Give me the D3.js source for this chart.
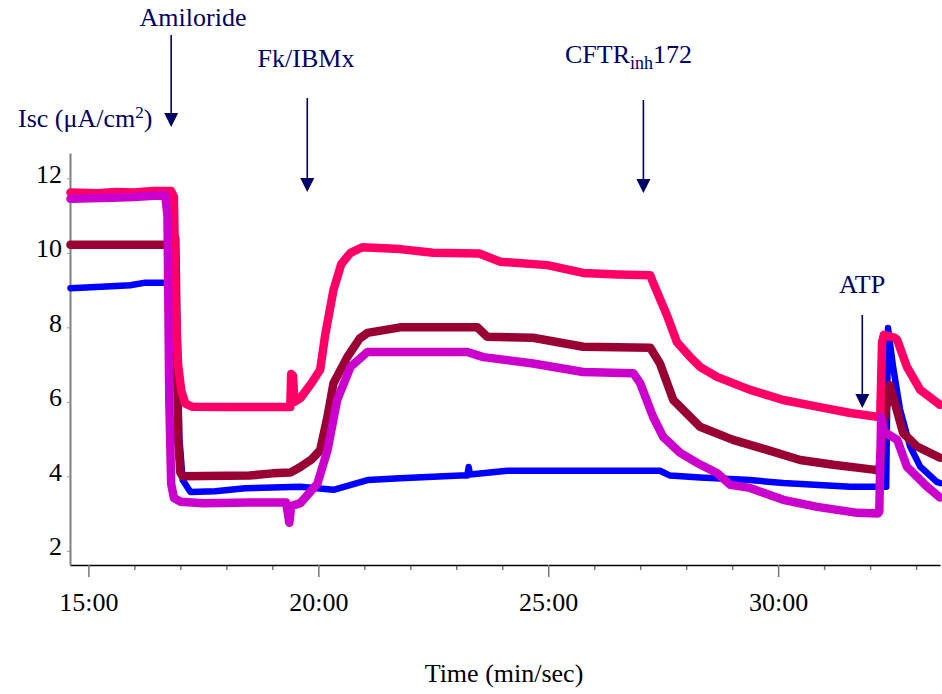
<!DOCTYPE html>
<html>
<head>
<meta charset="utf-8">
<script src="https://cdn.jsdelivr.net/npm/d3@7"></script>
<style>
  body { margin: 0; background: #fff; }
  svg text { font-family: "Liberation Serif", "Times New Roman", serif; }
</style>
</head>
<body>
<div id="chart-container"></div>
<script>
// traces: [time in minutes, Isc in uA/cm2]
const blueTrace = [[14.61, 9.05], [15.5, 9.1], [15.91, 9.13], [16.24, 9.2], [16.89, 9.2], [16.93, 8.0], [16.98, 5.0],
  [17.05, 3.9], [17.22, 3.58], [17.76, 3.6], [18.41, 3.68], [19.0, 3.7], [19.61, 3.72], [20.33, 3.64], [21.07, 3.9],
  [21.78, 3.95], [23.09, 4.02], [23.24, 4.02], [23.27, 4.25], [23.3, 4.05], [24.11, 4.15], [27.43, 4.15], [27.65, 4.02],
  [28.3, 3.97], [29.39, 3.9], [30.11, 3.82], [31.57, 3.72], [32.35, 3.72], [32.39, 7.98], [32.5, 6.94], [32.65, 5.8],
  [32.87, 4.8], [33.09, 4.26], [33.45, 3.85], [33.52, 3.82]];

const maroonTrace = [[14.61, 10.22], [16.0, 10.22], [16.8, 10.22], [16.89, 10.4], [16.92, 8.0], [16.95, 5.0], [17.0, 4.1],
  [17.05, 4.0], [18.5, 4.02], [19.0, 4.08], [19.39, 4.1], [19.61, 4.25], [19.85, 4.45], [20.04, 4.7], [20.2, 5.6],
  [20.33, 6.5], [20.63, 7.2], [20.9, 7.7], [21.07, 7.85], [21.78, 8.0], [23.46, 8.0], [23.67, 7.75], [24.67, 7.72],
  [25.76, 7.48], [27.22, 7.45], [27.43, 7.03], [27.72, 6.05], [28.3, 5.33], [29.02, 4.98], [29.76, 4.71], [30.48, 4.44],
  [31.2, 4.31], [32.07, 4.18], [32.2, 4.15], [32.3, 5.5], [32.43, 6.45], [32.72, 5.16], [33.02, 4.8], [33.52, 4.5]];

const pinkTrace = [[14.61, 11.62], [15.2, 11.6], [15.6, 11.63], [16.0, 11.62], [16.4, 11.66], [16.8, 11.66], [16.86, 11.5],
  [16.9, 8.5], [16.95, 7.0], [17.02, 6.3], [17.11, 5.95], [17.25, 5.87], [18.0, 5.86], [19.39, 5.86], [19.41, 6.75],
  [19.45, 6.7], [19.48, 6.0], [19.61, 6.1], [19.85, 6.5], [20.04, 6.86], [20.15, 7.8], [20.33, 9.0], [20.5, 9.7],
  [20.7, 10.0], [20.96, 10.15], [21.78, 10.1], [22.5, 10.0], [23.5, 9.98], [23.96, 9.76], [24.98, 9.67], [25.76, 9.46],
  [26.5, 9.42], [27.22, 9.4], [27.28, 9.2], [27.59, 8.3], [27.8, 7.6], [28.09, 7.2], [28.3, 6.94], [28.67, 6.67],
  [29.39, 6.32], [30.11, 6.05], [30.85, 5.87], [31.57, 5.7], [32.15, 5.6], [32.22, 5.6], [32.26, 7.6], [32.3, 7.8],
  [32.54, 7.72], [32.59, 7.66], [32.8, 6.94], [33.09, 6.32], [33.52, 5.92]];

const magentaTrace = [[14.61, 11.45], [15.5, 11.48], [16.0, 11.5], [16.67, 11.55], [16.72, 11.0], [16.76, 6.0], [16.8, 3.8],
  [16.86, 3.42], [17.0, 3.32], [17.5, 3.28], [18.5, 3.3], [19.3, 3.3], [19.37, 2.75], [19.41, 3.2], [19.61, 3.28],
  [19.98, 3.8], [20.2, 4.7], [20.41, 6.05], [20.7, 6.94], [21.07, 7.34], [23.24, 7.34], [23.59, 7.2], [24.67, 7.03],
  [25.76, 6.8], [26.85, 6.77], [27.0, 6.5], [27.28, 5.6], [27.5, 5.06], [27.87, 4.63], [28.24, 4.36], [28.67, 4.09],
  [28.96, 3.77], [29.39, 3.69], [30.11, 3.37], [30.85, 3.18], [31.72, 3.02], [32.17, 3.0], [32.2, 3.05], [32.24, 5.6],
  [32.3, 5.2], [32.59, 4.98], [32.8, 4.26], [33.24, 3.72], [33.52, 3.43]];

const seriesColors = ["#0000ff", "#990033", "#ff0066", "#cc00cc"];
const seriesWidths = [6.5, 8.5, 8.5, 8.5];

const yTicks = [2, 4, 6, 8, 10, 12];
const xMajorTicks = [15, 20, 25, 30];
const xMinorTicks = [16, 17, 18, 19, 21, 22, 23, 24, 26, 27, 28, 29, 31, 32, 33];

// drug additions (time in minutes)
const annotationNames = ["Amiloride", "Fk/IBMx", "CFTR", "ATP"];
const annotationTimes = [16.8, 19.76, 27.07, 31.83];

const width = 942, height = 694;
const navy = "#000066";

const svg = d3.select("#chart-container")
  .append("svg")
  .attr("width", width)
  .attr("height", height);

const x = d3.scaleLinear().domain([14.6, 33.52]).range([70, 940]);
const y = d3.scaleLinear().domain([1.62, 12.68]).range([565, 153]);

// x axis - minor ticks first, then major with labels
svg.append("g")
  .attr("transform", "translate(0,565)")
  .call(d3.axisBottom(x).tickValues(xMinorTicks).tickSize(5).tickFormat(""))
  .call(g => g.select(".domain").remove())
  .call(g => g.selectAll(".tick line").attr("stroke", "#777").attr("stroke-width", 1.5));

const xAxis = svg.append("g")
  .attr("transform", "translate(0,565)")
  .call(d3.axisBottom(x).tickValues(xMajorTicks).tickSize(12).tickSizeOuter(0)
    .tickFormat(d => d + ":00"));
xAxis.select(".domain").attr("stroke", "#000").attr("stroke-width", 1.5);
xAxis.selectAll(".tick line").attr("stroke", "#777").attr("stroke-width", 1.5);
xAxis.selectAll(".tick text")
  .attr("y", 46).attr("dy", 0)
  .attr("fill", "#000")
  .style("font-size", "26px");

// y axis
const yAxis = svg.append("g")
  .attr("transform", "translate(70,0)")
  .call(d3.axisLeft(y).tickValues(yTicks).tickSize(3).tickPadding(5).tickSizeOuter(0));
yAxis.select(".domain").attr("stroke", "#808080").attr("stroke-width", 2);
yAxis.selectAll(".tick line").attr("stroke", "#999");
yAxis.selectAll(".tick text")
  .attr("dy", "0.15em")
  .attr("fill", "#000")
  .style("font-size", "26px");

// traces
const line = d3.line()
  .x(d => x(d[0]))
  .y(d => y(d[1]));

[blueTrace, maroonTrace, pinkTrace, magentaTrace].forEach((trace, i) => {
  svg.append("path")
    .datum(trace)
    .attr("fill", "none")
    .attr("stroke", seriesColors[i])
    .attr("stroke-width", seriesWidths[i])
    .attr("stroke-linejoin", "round")
    .attr("stroke-linecap", "round")
    .attr("d", line);
});

// arrows for additions
const arrowTop = [35, 98, 100, 315];
const arrowTip = [127, 192, 193, 408];
annotationTimes.forEach((t, i) => {
  const ax = x(t);
  svg.append("line")
    .attr("x1", ax).attr("x2", ax)
    .attr("y1", arrowTop[i]).attr("y2", arrowTip[i] - 12)
    .attr("stroke", navy)
    .attr("stroke-width", 1.6);
  svg.append("path")
    .attr("d", `M${ax - 7},${arrowTip[i] - 14} L${ax + 7},${arrowTip[i] - 14} L${ax},${arrowTip[i]} Z`)
    .attr("fill", navy);
});

// labels
const labelFont = "26px";
svg.append("text").attr("x", 193).attr("y", 26).attr("text-anchor", "middle")
  .attr("fill", navy).style("font-size", labelFont).text(annotationNames[0]);
svg.append("text").attr("x", 306).attr("y", 67).attr("text-anchor", "middle")
  .attr("fill", navy).style("font-size", labelFont).text(annotationNames[1]);

const cftr = svg.append("text").attr("x", 565).attr("y", 63)
  .attr("fill", navy).style("font-size", labelFont);
cftr.append("tspan").text(annotationNames[2]);
cftr.append("tspan").attr("dy", 6).style("font-size", "18px").text("inh");
cftr.append("tspan").attr("dy", -6).text("172");

svg.append("text").attr("x", 862).attr("y", 293).attr("text-anchor", "middle")
  .attr("fill", navy).style("font-size", labelFont).text(annotationNames[3]);

const isc = svg.append("text").attr("x", 18).attr("y", 127)
  .attr("fill", navy).style("font-size", labelFont);
isc.append("tspan").text("Isc (\u03bcA/cm");
isc.append("tspan").attr("dy", -9).style("font-size", "17px").text("2");
isc.append("tspan").attr("dy", 9).text(")");

svg.append("text").attr("x", 504).attr("y", 682).attr("text-anchor", "middle")
  .attr("fill", "#000").style("font-size", labelFont).text("Time (min/sec)");
</script>
</body>
</html>
